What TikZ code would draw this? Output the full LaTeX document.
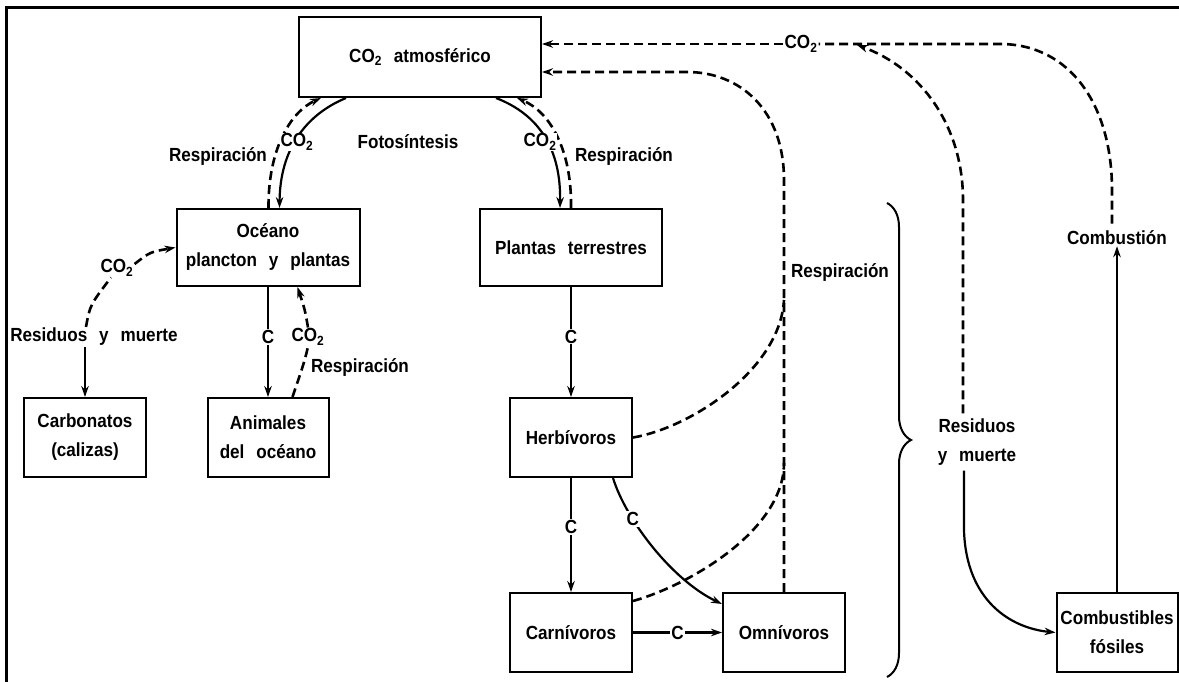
\documentclass[tikz,border=0pt]{standalone}
\usepackage{fontspec}
\setmainfont{Liberation Sans}[WordSpace=2.5,FakeStretch=0.9]
\usetikzlibrary{arrows.meta,decorations.pathreplacing}
\begin{document}
\begin{tikzpicture}[x=1pt,y=-1pt,
  every node/.style={font=\fontsize{19}{29}\selectfont\bfseries},
  box/.style={draw,line width=2pt,align=center,inner sep=0pt},
  lbl/.style={inner sep=1pt},
  wlbl/.style={inner sep=1pt,fill=white},
  arr/.style={line width=2.2pt,-{Stealth[length=11pt,width=7.5pt]}},
  dsh/.style={line width=2.6pt,dash pattern=on 9pt off 5pt},
  darr/.style={dsh,-{Stealth[length=11pt,width=7.5pt]}},
  ]
\useasboundingbox (0,0) rectangle (1179,682);
\draw[line width=3pt] (6,682) -- (6,8) -- (1179,8);

% boxes
\node[box,minimum width=242pt,minimum height=80pt] (atm) at (420,57) {CO\textsubscript{2} atmosférico};
\node[box,minimum width=183pt,minimum height=77pt] (ocean) at (268,247.5) {Océano\\plancton y plantas};
\node[box,minimum width=182pt,minimum height=77pt] (plant) at (571,247.5) {Plantas terrestres};
\node[box,minimum width=122pt,minimum height=79pt] (carb) at (85,437.5) {Carbonatos\\(calizas)};
\node[box,minimum width=121pt,minimum height=79pt] (anim) at (268,437.5) {Animales\\del océano};
\node[box,minimum width=122pt,minimum height=79pt] (herb) at (571,437.5) {Herbívoros};
\node[box,minimum width=122pt,minimum height=79pt] (carn) at (571,632.5) {Carnívoros};
\node[box,minimum width=122pt,minimum height=79pt] (omni) at (784,632.5) {Omnívoros};
\node[box,minimum width=121pt,minimum height=79pt] (fuel) at (1117,632.5) {Combustibles\\fósiles};

% free labels
\node[lbl] (lResp) at (218,157) {Respiración};
\node[lbl] (foto) at (408,142) {Fotosíntesis};
\node[lbl] (rResp) at (624,157) {Respiración};
\node[lbl] (oCO2) at (117,268) {CO\textsubscript{2}};
\node[lbl] (lResid) at (94,337) {Residuos y muerte};
\node[lbl] (co2AO) at (308,337) {CO\textsubscript{2}};
\node[lbl] (respAO) at (360,368) {Respiración};
\node[lbl] (mResp) at (840,273) {Respiración};
\node[lbl] (topCO2) at (801,44) {CO\textsubscript{2}};
\node[lbl] (combL) at (1117,238) {Combustión};
\node[lbl,align=center] (rResid) at (977,442) {Residuos\\y muerte};

% atm <-> ocean
\draw[arr] ([xshift=48pt]atm.south west) .. controls (305,115) and (280,150) .. ([xshift=104pt]ocean.north west);
\draw[darr] ([xshift=93pt]ocean.north west) .. controls (268,150) and (290,112) .. ([xshift=23pt]atm.south west);
% atm <-> plants
\draw[arr] ([xshift=198pt]atm.south west) .. controls (540,115) and (561,150) .. ([xshift=81pt]plant.north west);
\draw[darr] ([xshift=92pt]plant.north west) .. controls (572,150) and (550,112) .. ([xshift=219pt]atm.south west);
\node[wlbl] (lCO2) at (297,142) {CO\textsubscript{2}};
\node[wlbl] (rCO2) at (540,142) {CO\textsubscript{2}};

% ocean side
\draw[arr] (ocean.south) -- node[wlbl,pos=0.455]{C} (anim.north);
\draw[dsh] ([xshift=86pt]anim.north west) .. controls (298,380) and (304,365) .. (co2AO.south);
\draw[darr] (co2AO.north) .. controls (305,310) .. ([xshift=122pt]ocean.south west);
\draw[dsh] ([xshift=-8pt]lResid.north) .. controls (90,305) .. ([xshift=-6pt]oCO2.south);
\draw[darr] ([yshift=4pt]oCO2.east) .. controls (150,252) .. (ocean.west);
\draw[arr] ([xshift=-9pt]lResid.south) -- (carb.north);

% land food chain
\draw[arr] (plant.south) -- node[wlbl,pos=0.45]{C} (herb.north);
\draw[arr] (herb.south) -- node[wlbl,pos=0.43]{C} (carn.north);
\draw[arr] ([xshift=104pt]herb.south west) .. controls (626,520) and (672,580) .. node[wlbl,pos=0.3]{C} ([yshift=-12pt]omni.north west);
\draw[arr,line width=3pt] (carn.east) -- node[wlbl]{C} (omni.west);

% respiration network
\draw[dsh] (herb.east) .. controls (690,428) and (780,370) .. (784,300);
\draw[dsh] ([yshift=-9pt]carn.north east) .. controls (690,585) and (784,530) .. (784,463);
\draw[darr] (omni.north) -- (784,180) .. controls (784,110) and (740,72) .. (687,72) -- ([yshift=-15pt]atm.east);

% combustion / decay
\draw[dsh] ([xshift=-5pt,yshift=6pt]combL.north) -- (1112,190) .. controls (1112,105) and (1070,44) .. (1000,44) -- (topCO2.east);
\draw[darr] (topCO2.west) -- ([yshift=13pt]atm.east);
\draw[darr] ([xshift=-14pt,yshift=4pt]rResid.north) -- (963,200) .. controls (963,125) and (920,68) .. (857,45);
\draw[arr] ([xshift=-13pt,yshift=-4pt]rResid.south) -- (964,530) .. controls (966,600) and (1010,628) .. (fuel.west);
\draw[arr] (fuel.north) -- (combL.south);

% brace
\draw[line width=2pt,decorate,decoration={brace,amplitude=24pt}] (887,203) -- (887,677);
\end{tikzpicture}
\end{document}
